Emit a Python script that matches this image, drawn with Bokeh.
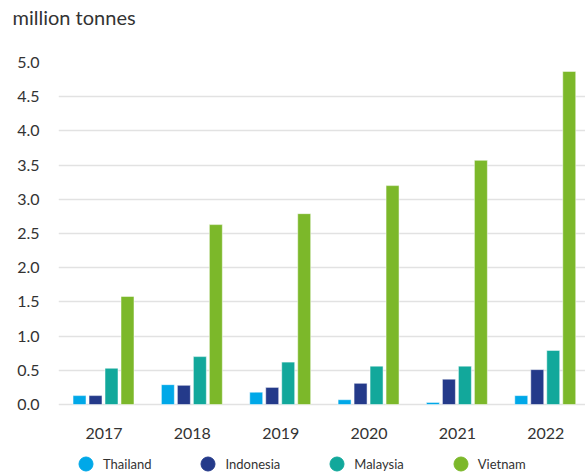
from bokeh.plotting import figure
from bokeh.models import ColumnDataSource, Range1d, Legend, LegendItem, FixedTicker, Title
from bokeh.transform import dodge
from bokeh.embed import file_html
from bokeh.resources import INLINE

years = ["2017", "2018", "2019", "2020", "2021", "2022"]
thailand = [0.13, 0.29, 0.18, 0.07, 0.03, 0.13]
indonesia = [0.13, 0.28, 0.25, 0.31, 0.37, 0.51]
malaysia = [0.53, 0.70, 0.62, 0.56, 0.56, 0.79]
vietnam = [1.58, 2.63, 2.79, 3.20, 3.57, 4.87]
y_ticks = [0.0, 0.5, 1.0, 1.5, 2.0, 2.5, 3.0, 3.5, 4.0, 4.5, 5.0]

series = [("Thailand", thailand, "#00a8e8"),
          ("Indonesia", indonesia, "#243a8a"),
          ("Malaysia", malaysia, "#12a89b"),
          ("Vietnam", vietnam, "#7cb82a")]

FONT = "Lato"
xs = list(range(len(years)))
src = ColumnDataSource(dict(x=xs, thailand=thailand, indonesia=indonesia,
                            malaysia=malaysia, vietnam=vietnam))

# frame extends below zero so the legend can sit inside it under the year labels
p = figure(frame_width=527, frame_height=413, output_backend="svg", toolbar_location=None,
           x_range=Range1d(-0.515, 5.45), y_range=Range1d(-1.038, 5.0),
           min_border_left=58, min_border_right=0, min_border_top=62, min_border_bottom=0)
p.outline_line_color = None
p.title = None

offsets = [-0.277, -0.096, 0.085, 0.266]
width = 0.147
items = []
for (name, vals, col), off in zip(series, offsets):
    p.vbar(x=dodge("x", off, range=p.x_range), top=name.lower(), bottom=0, width=width,
           source=src, fill_color=col, line_color="white", line_alpha=0.5, line_width=1)
    r = p.scatter(x=[0], y=[-10], size=14, marker="circle", fill_color=col, line_color=col)
    items.append(LegendItem(label=name, renderers=[r]))

# spacer (nearest the frame), then the visible title above it
p.add_layout(Title(text="\u00a0", text_font_size="1px", standoff=25), "above")
p.add_layout(Title(text="million tonnes", text_font=FONT, text_font_size="20px",
                   text_font_style="normal", text_color="#333333",
                   offset=-46, standoff=8, vertical_align="top"), "above")

p.xaxis.ticker = FixedTicker(ticks=xs)
p.xaxis.major_label_overrides = {i: y for i, y in enumerate(years)}
p.xaxis.fixed_location = 0
p.yaxis.ticker = FixedTicker(ticks=y_ticks)
p.yaxis.major_label_overrides = {t: f"{t:.1f}" for t in y_ticks}
for ax in (p.xaxis, p.yaxis):
    ax.axis_line_color = None
    ax.major_tick_line_color = None
    ax.minor_tick_line_color = None
    ax.major_label_text_font = FONT
    ax.major_label_text_font_size = "16px"
    ax.major_label_text_color = "#333333"
p.yaxis.major_label_standoff = 13
p.xaxis.major_label_standoff = 17

p.xgrid.grid_line_color = None
p.ygrid.ticker = FixedTicker(ticks=y_ticks)
p.ygrid.grid_line_color = "#e2e2e2"
p.ygrid.grid_line_width = 1.5

legend = Legend(items=items, orientation="horizontal", location=(10, -6))
legend.label_text_font = FONT
legend.label_text_font_size = "13px"
legend.label_text_color = "#333333"
legend.glyph_width = 35
legend.glyph_height = 35
legend.spacing = 39
legend.label_standoff = 0
legend.padding = 0
legend.margin = 0
legend.border_line_color = None
legend.background_fill_alpha = 0
p.add_layout(legend)

open("out.html", "w").write(file_html(p, INLINE))
